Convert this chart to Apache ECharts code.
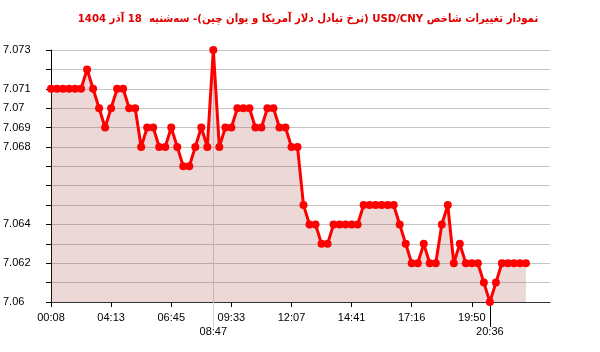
<!DOCTYPE html>
<html>
<head>
<meta charset="utf-8">
<script src="https://cdn.jsdelivr.net/npm/echarts@6/dist/echarts.min.js"></script>
<style>html,body{margin:0;padding:0;background:#fff}#c{width:600px;height:352px}</style>
</head>
<body>
<div id="c"></div>
<script>
// Category labels (index -> time); unknown times left blank
const categories = [
  '00:08','','','','','','','','','',
  '04:13','','','','','','','','','',
  '06:45','','','','','','','08:47','','',
  '09:33','','','','','','','','','',
  '12:07','','','','','','','','','',
  '14:41','','','','','','','','','',
  '17:16','','','','','','','','','',
  '19:50','','','20:36','','','','','','',
  '','','',''
];
const mainTickIdx = [0,10,20,30,40,50,60,70];
const maxIdx = 27;
const minIdx = 73;
const values = [
  7.071,7.071,7.071,7.071,7.071,7.071,7.072,7.071,7.070,7.069,
  7.070,7.071,7.071,7.070,7.070,7.068,7.069,7.069,7.068,7.068,
  7.069,7.068,7.067,7.067,7.068,7.069,7.068,7.073,7.068,7.069,
  7.069,7.070,7.070,7.070,7.069,7.069,7.070,7.070,7.069,7.069,
  7.068,7.068,7.065,7.064,7.064,7.063,7.063,7.064,7.064,7.064,
  7.064,7.064,7.065,7.065,7.065,7.065,7.065,7.065,7.064,7.063,
  7.062,7.062,7.063,7.062,7.062,7.064,7.065,7.062,7.063,7.062,
  7.062,7.062,7.061,7.060,7.061,7.062,7.062,7.062,7.062,7.062
];
const yLabels = [7.073, 7.071, 7.07, 7.069, 7.068, 7.064, 7.062, 7.06];
const yMin = 7.06, yMax = 7.073, yStep = 0.001;
const titleText = 'نمودار تغییرات شاخص USD/CNY (نرخ تبادل دلار آمریکا و یوان چین)- سه‌شنبه  18 آذر 1404';

const labelFont = {fontFamily: 'Liberation Sans, Arial, sans-serif', fontSize: 11, color: '#000'};
const yLabelSet = new Set(yLabels.map(v => Math.round(v * 1000)));

const chart = echarts.init(document.getElementById('c'), null, {renderer: 'canvas'});
chart.setOption({
  animation: false,
  backgroundColor: '#fff',
  title: {
    text: '\u202B' + titleText + '\u202C',
    left: 303,
    textAlign: 'center',
    top: 9,
    textStyle: {color: '#e00000', fontSize: 11.3, fontWeight: 'bold', fontFamily: 'DejaVu Sans Condensed, DejaVu Sans, sans-serif'}
  },
  grid: {left: 50, right: 50, top: 50, bottom: 50, containLabel: false},
  xAxis: [
    {
      type: 'category', data: categories, boundaryGap: false,
      axisLine: {show: true, lineStyle: {color: '#333', width: 1}},
      axisTick: {show: true, length: 5, interval: (i) => mainTickIdx.includes(i), lineStyle: {color: '#000'}},
      axisLabel: Object.assign({interval: (i) => mainTickIdx.includes(i), margin: 10}, labelFont),
      splitLine: {show: false}
    },
    {
      type: 'category', data: categories, boundaryGap: false, position: 'bottom',
      axisLine: {show: false},
      axisTick: {show: true, length: 26, interval: (i) => i === maxIdx, lineStyle: {color: '#d0d0d0'}},
      axisLabel: Object.assign({interval: (i) => i === maxIdx, margin: 24}, labelFont),
      splitLine: {show: true, interval: (i) => i === maxIdx, lineStyle: {color: '#d0d0d0', width: 1}}
    },
    {
      type: 'category', data: categories, boundaryGap: false, position: 'bottom',
      axisLine: {show: false},
      axisTick: {show: true, length: 25, interval: (i) => i === minIdx, lineStyle: {color: '#000'}},
      axisLabel: Object.assign({interval: (i) => i === minIdx, margin: 24}, labelFont),
      splitLine: {show: false}
    }
  ],
  yAxis: {
    type: 'value', min: yMin, max: yMax, interval: yStep,
    axisLine: {show: true, lineStyle: {color: '#000'}},
    axisTick: {show: true, length: 5, lineStyle: {color: '#000'}},
    axisLabel: Object.assign({
      align: 'left', margin: 48, padding: [0, 0, 5, 0],
      formatter: (v) => yLabelSet.has(Math.round(v * 1000)) ? String(+(+v).toFixed(3)) : ''
    }, labelFont),
    splitLine: {show: true, lineStyle: {color: '#c4c4c4', width: 1}}
  },
  series: [{
    type: 'line',
    data: values,
    xAxisIndex: 0,
    symbol: 'circle',
    symbolSize: 8,
    showAllSymbol: true,
    lineStyle: {color: '#ff0000', width: 3},
    itemStyle: {color: '#ff0000'},
    areaStyle: {color: 'rgba(170,70,70,0.3)'},
    z: 3
  }]
});
</script>
</body>
</html>
